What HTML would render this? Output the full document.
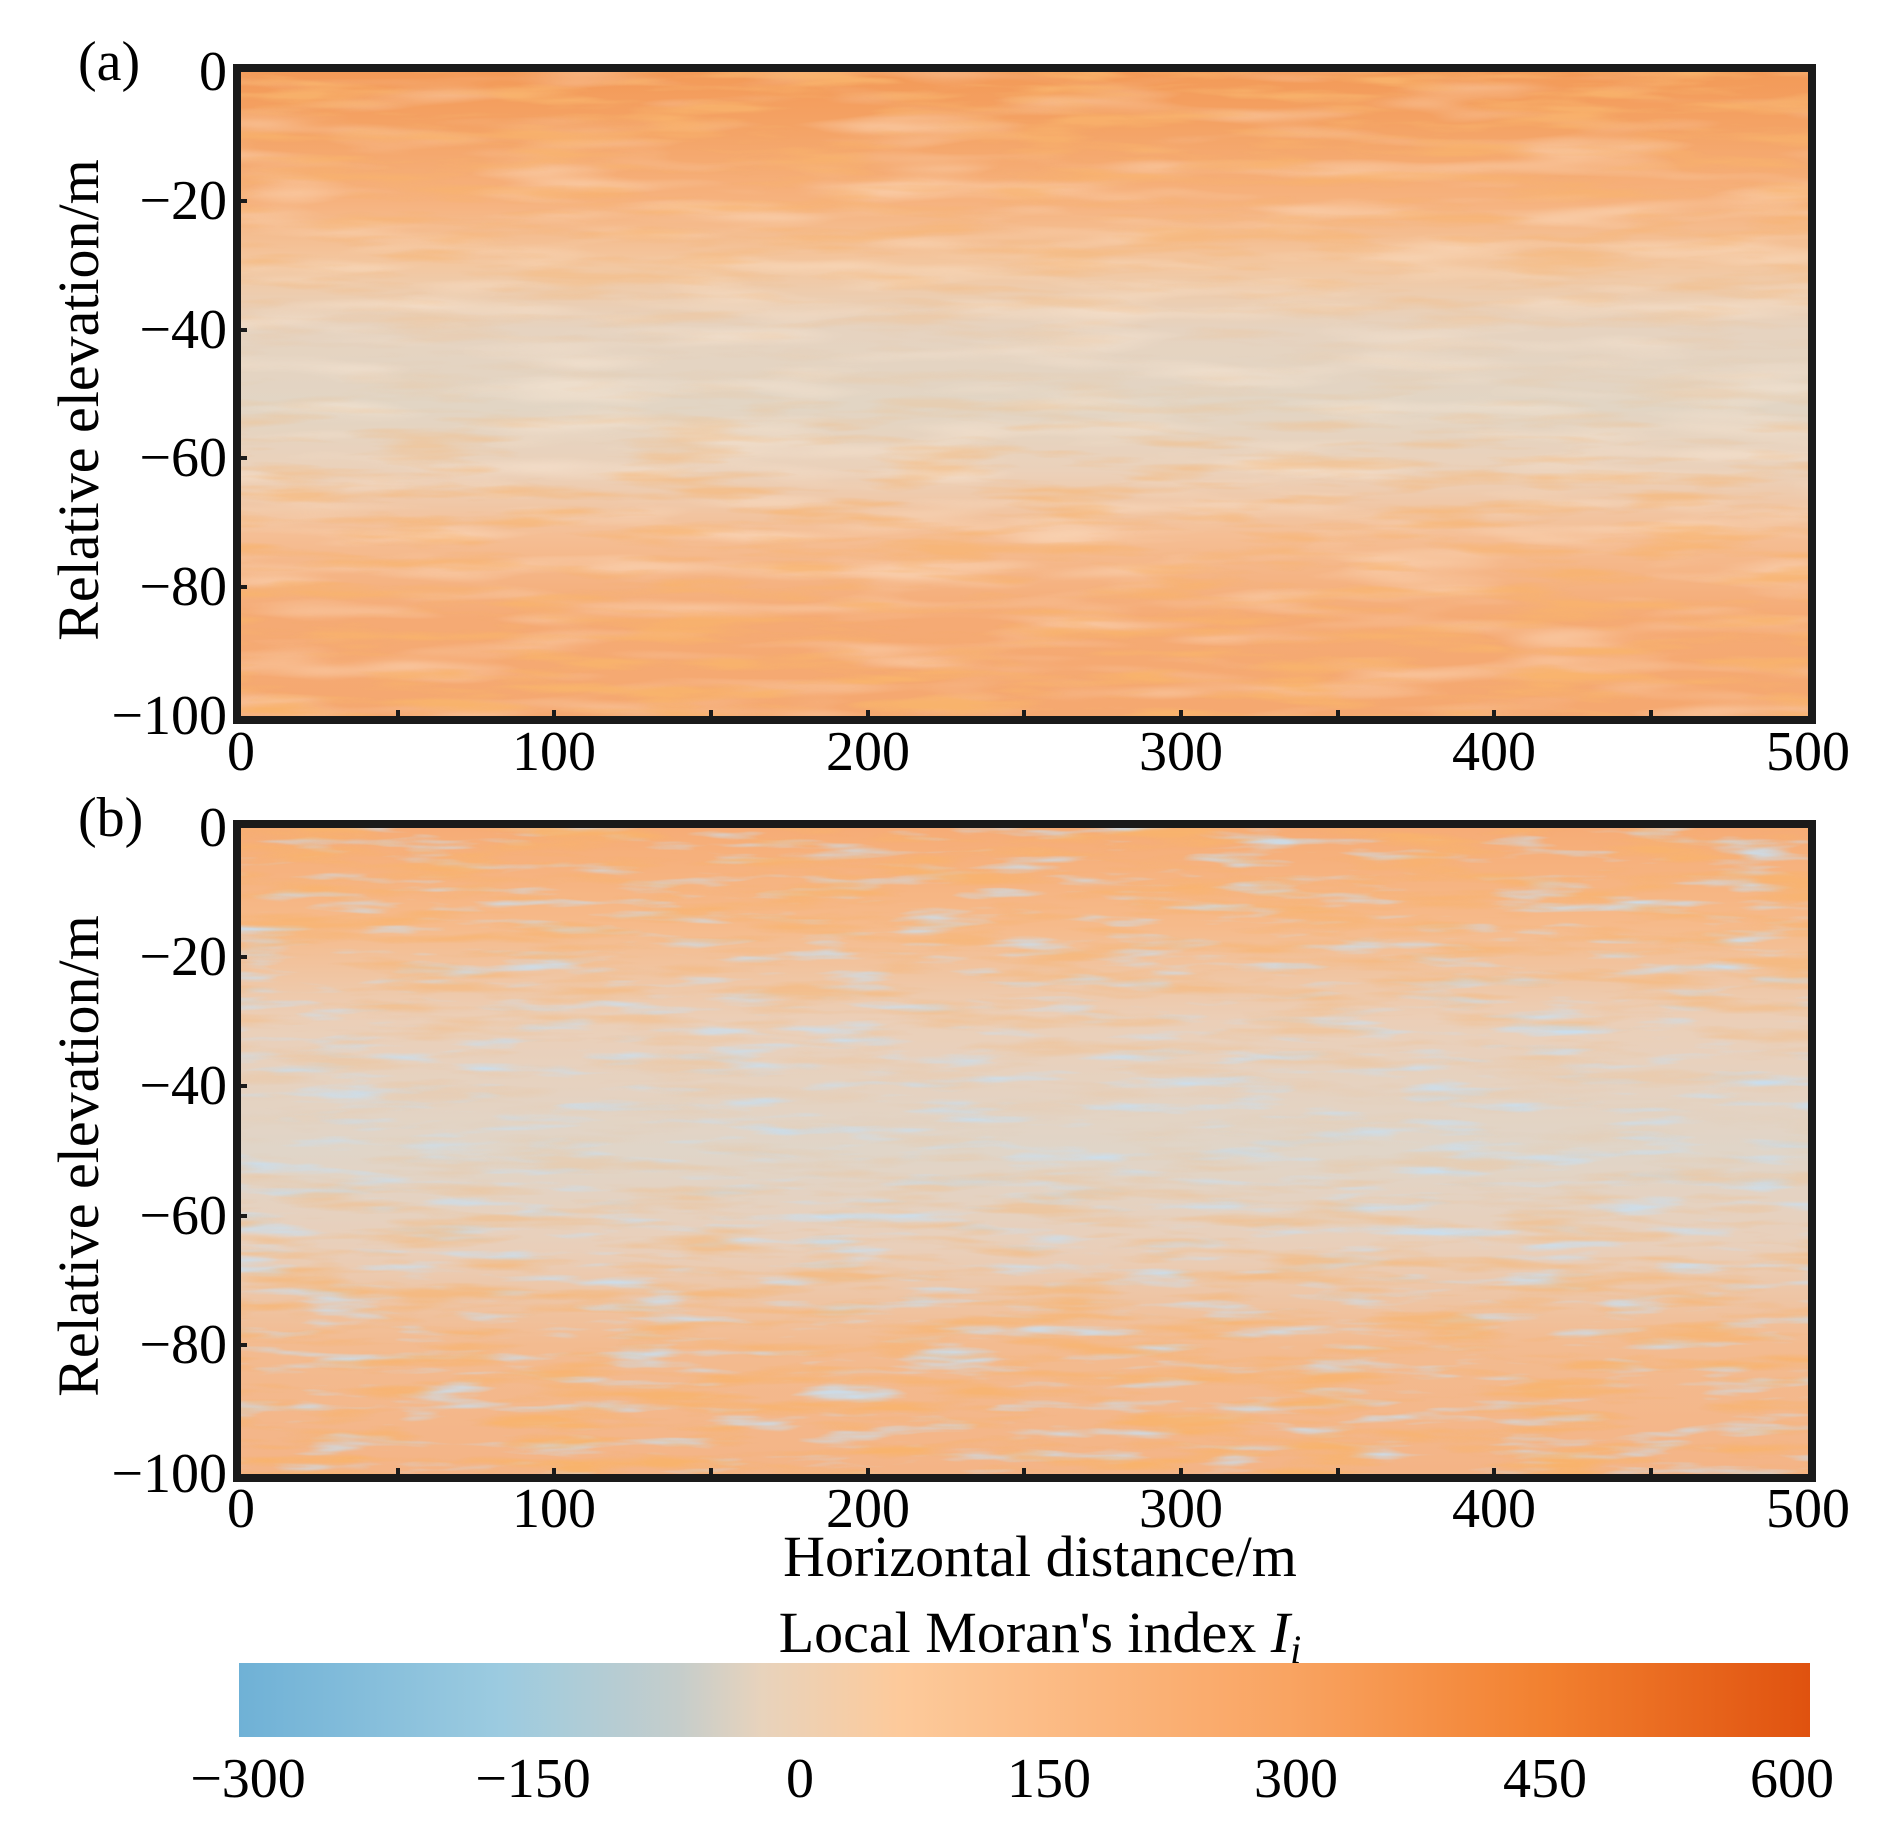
<!DOCTYPE html>
<html><head><meta charset="utf-8"><style>
html,body{margin:0;padding:0;background:#fff}
svg{display:block}
text{font-family:"Liberation Serif",serif;fill:#000}
</style></head><body>
<svg width="1899" height="1848" viewBox="0 0 1899 1848" xmlns="http://www.w3.org/2000/svg">
<defs>
<linearGradient id="ga" x1="0" y1="0" x2="0" y2="1">
<stop offset="0" stop-color="#f39a58"/><stop offset="0.08" stop-color="#f4a264"/>
<stop offset="0.2" stop-color="#f6b27e"/><stop offset="0.3" stop-color="#f3c7a0"/>
<stop offset="0.4" stop-color="#e6d3c0"/><stop offset="0.52" stop-color="#e2d5c4"/>
<stop offset="0.62" stop-color="#ebd1ba"/><stop offset="0.72" stop-color="#f5be94"/>
<stop offset="0.85" stop-color="#f5aa74"/><stop offset="1" stop-color="#f5a870"/>
</linearGradient>
<linearGradient id="gb" x1="0" y1="0" x2="0" y2="1">
<stop offset="0" stop-color="#f6ac76"/><stop offset="0.15" stop-color="#f6ba8a"/>
<stop offset="0.3" stop-color="#ebcfb8"/><stop offset="0.5" stop-color="#e0d5c8"/>
<stop offset="0.65" stop-color="#e9cfba"/><stop offset="0.8" stop-color="#f3bb90"/>
<stop offset="1" stop-color="#f4b486"/>
</linearGradient>
<linearGradient id="cb" x1="0" y1="0" x2="1" y2="0">
<stop offset="0" stop-color="#6fb1d6"/><stop offset="0.167" stop-color="#9ccbe0"/>
<stop offset="0.28" stop-color="#c5cdcb"/><stop offset="0.333" stop-color="#e8d3bc"/>
<stop offset="0.42" stop-color="#fdca9b"/><stop offset="0.667" stop-color="#f9a462"/>
<stop offset="0.833" stop-color="#f2802f"/><stop offset="1" stop-color="#e0520f"/>
</linearGradient>
<filter id="no" x="0" y="0" width="100%" height="100%">
<feTurbulence type="fractalNoise" baseFrequency="0.008 0.07" numOctaves="3" seed="3"/>
<feColorMatrix type="matrix" values="0 0 0 0 0.94  0 0 0 0 0.45  0 0 0 0 0.15  3.4 0 0 0 -1.6"/>
</filter>
<filter id="nb" x="0" y="0" width="100%" height="100%">
<feTurbulence type="fractalNoise" baseFrequency="0.01 0.08" numOctaves="3" seed="9"/>
<feColorMatrix type="matrix" values="0 0 0 0 0.58  0 0 0 0 0.74  0 0 0 0 0.88  0 3 0 0 -1.6"/>
</filter>
<filter id="nl" x="0" y="0" width="100%" height="100%">
<feTurbulence type="fractalNoise" baseFrequency="0.006 0.05" numOctaves="2" seed="21"/>
<feColorMatrix type="matrix" values="0 0 0 0 0.99  0 0 0 0 0.84  0 0 0 0 0.7  0 0 2.6 0 -1.2"/>
</filter>
<linearGradient id="ma" x1="0" y1="0" x2="0" y2="1">
<stop offset="0" stop-color="#fff" stop-opacity="0.9"/><stop offset="0.25" stop-color="#fff" stop-opacity="0.45"/>
<stop offset="0.45" stop-color="#fff" stop-opacity="0.05"/><stop offset="0.65" stop-color="#fff" stop-opacity="0.5"/>
<stop offset="1" stop-color="#fff" stop-opacity="1"/>
</linearGradient>
<mask id="mka"><rect x="241" y="72" width="1567" height="644" fill="url(#ma)"/></mask>
<mask id="mkb"><rect x="241" y="828" width="1567" height="646" fill="url(#ma)"/></mask>
</defs>
<rect x="241" y="72" width="1567" height="644" fill="url(#ga)"/>
<rect x="241" y="72" width="1567" height="644" filter="url(#nl)" opacity="0.4"/>
<rect x="241" y="72" width="1567" height="644" filter="url(#no)" mask="url(#mka)"/>
<rect x="237" y="68" width="1575" height="652" fill="none" stroke="#1a1a1a" stroke-width="8"/>
<rect x="241" y="828" width="1567" height="646" fill="url(#gb)"/>
<rect x="241" y="828" width="1567" height="646" filter="url(#nb)" opacity="0.9"/>
<rect x="241" y="828" width="1567" height="646" filter="url(#no)" mask="url(#mkb)"/>
<rect x="237" y="824" width="1575" height="654" fill="none" stroke="#1a1a1a" stroke-width="8"/>
<g stroke="#1a1a1a" stroke-width="4">
<path d="M241 201h6M241 330h6M241 458h6M241 587h6"/>
<path d="M398 716v-6M554 716v-6M711 716v-6M868 716v-6M1024 716v-6M1181 716v-6M1338 716v-6M1494 716v-6M1651 716v-6"/>
<path d="M241 957h6M241 1086h6M241 1216h6M241 1345h6"/>
<path d="M398 1474v-6M554 1474v-6M711 1474v-6M868 1474v-6M1024 1474v-6M1181 1474v-6M1338 1474v-6M1494 1474v-6M1651 1474v-6"/>
</g>
<g font-size="56" text-anchor="end">
<text x="227" y="90">0</text><text x="227" y="219">−20</text><text x="227" y="348">−40</text>
<text x="227" y="476">−60</text><text x="227" y="605">−80</text><text x="227" y="734">−100</text>
<text x="227" y="846">0</text><text x="227" y="975">−20</text><text x="227" y="1104">−40</text>
<text x="227" y="1234">−60</text><text x="227" y="1363">−80</text><text x="227" y="1492">−100</text>
</g>
<g font-size="56" text-anchor="middle">
<text x="241" y="770">0</text><text x="554" y="770">100</text><text x="868" y="770">200</text>
<text x="1181" y="770">300</text><text x="1494" y="770">400</text><text x="1808" y="770">500</text>
<text x="241" y="1527">0</text><text x="554" y="1527">100</text><text x="868" y="1527">200</text>
<text x="1181" y="1527">300</text><text x="1494" y="1527">400</text><text x="1808" y="1527">500</text>
</g>
<text x="78" y="80" font-size="56">(a)</text>
<text x="78" y="836" font-size="56">(b)</text>
<text transform="translate(98,400) rotate(-90)" font-size="58" text-anchor="middle">Relative elevation/m</text>
<text transform="translate(98,1156) rotate(-90)" font-size="58" text-anchor="middle">Relative elevation/m</text>
<text x="1040" y="1576" font-size="58" text-anchor="middle">Horizontal distance/m</text>
<text x="1040" y="1652" font-size="58" text-anchor="middle">Local Moran's index <tspan font-style="italic">I</tspan><tspan font-style="italic" font-size="40" dy="11">i</tspan></text>
<rect x="239" y="1663" width="1571" height="74" fill="url(#cb)"/>
<g font-size="56" text-anchor="middle">
<text x="248" y="1797">−300</text><text x="533" y="1797">−150</text><text x="800" y="1797">0</text>
<text x="1049" y="1797">150</text><text x="1296" y="1797">300</text><text x="1545" y="1797">450</text><text x="1792" y="1797">600</text>
</g>
</svg>
</body></html>
